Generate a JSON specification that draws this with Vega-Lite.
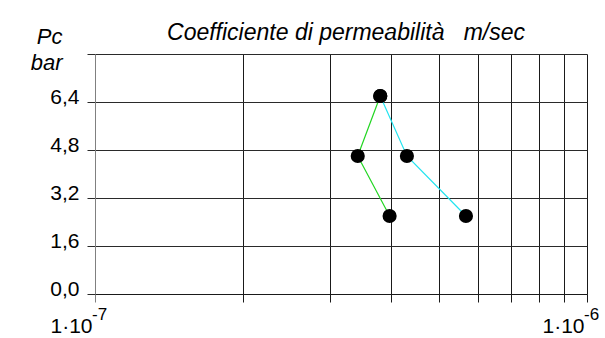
{
  "$schema": "https://vega.github.io/schema/vega-lite/v6.json",
  "width": 492,
  "height": 240,
  "autosize": {"type": "none"},
  "padding": {"left": 95, "top": 54, "right": 18, "bottom": 44},
  "background": "white",
  "config": {"view": {"stroke": null}, "font": "Liberation Sans"},
  "title": {
    "text": "Coefficiente di permeabilità\u00a0\u00a0 m/sec",
    "fontStyle": "italic",
    "fontWeight": "normal",
    "fontSize": 23,
    "font": "Liberation Sans",
    "color": "#000000",
    "anchor": "middle",
    "frame": "group",
    "baseline": "alphabetic",
    "offset": -10,
    "dx": 5,
    "dy": 27
  },
  "datasets": {
    "lines": [
      {"serie": "A", "step": 1, "k": 3.80e-7, "pc": 6.6},
      {"serie": "A", "step": 2, "k": 3.42e-7, "pc": 4.6},
      {"serie": "A", "step": 3, "k": 3.97e-7, "pc": 2.6},
      {"serie": "B", "step": 1, "k": 3.80e-7, "pc": 6.6},
      {"serie": "B", "step": 2, "k": 4.305e-7, "pc": 4.6},
      {"serie": "B", "step": 3, "k": 5.675e-7, "pc": 2.6}
    ],
    "exps": [
      {"k": 1e-7, "pc": 0, "exp": "-7"},
      {"k": 1e-6, "pc": 0, "exp": "-6"}
    ]
  },
  "encoding": {
    "x": {
      "field": "k",
      "type": "quantitative",
      "scale": {"type": "log", "domain": [1e-7, 1e-6]},
      "axis": {
        "values": [1e-7, 2e-7, 3e-7, 4e-7, 5e-7, 6e-7, 7e-7, 8e-7, 9e-7, 1e-6],
        "grid": true,
        "gridColor": {"condition": {"test": "datum.value < 1.5e-7", "value": "#808080"}, "value": "#1a1a1a"},
        "gridOpacity": 1,
        "gridWidth": 1,
        "tickColor": {"condition": {"test": "datum.value < 1.5e-7", "value": "#808080"}, "value": "#1a1a1a"},
        "tickSize": 8,
        "tickWidth": 1,
        "domainColor": "#1a1a1a",
        "labelExpr": "(datum.value < 1.5e-7 || datum.value > 9.5e-7) ? '1·10' : ''",
        "labelAlign": "right",
        "labelOffset": -3,
        "labelBaseline": "alphabetic",
        "labelPadding": 30,
        "labelFont": "Liberation Sans",
        "labelFontSize": 21,
        "labelColor": "#000000",
        "labelFlush": false,
        "labelOverlap": false,
        "labelBound": false,
        "title": null
      }
    },
    "y": {
      "field": "pc",
      "type": "quantitative",
      "scale": {"domain": [0, 8], "nice": false, "zero": false},
      "axis": {
        "values": [0, 1.6, 3.2, 4.8, 6.4, 8],
        "grid": true,
        "gridColor": "#2a2a2a",
        "gridOpacity": 1,
        "gridWidth": 1,
        "tickColor": "#2a2a2a",
        "tickSize": 8,
        "domainColor": "#808080",
        "labelExpr": "datum.value > 7 ? '' : replace(format(datum.value, '.1f'), '.', ',')",
        "labelFont": "Liberation Sans",
        "labelFontSize": 21,
        "labelColor": "#000000",
        "labelBaseline": "alphabetic",
        "labelOffset": 1.5,
        "labelPadding": 8,
        "labelFlush": false,
        "labelOverlap": false,
        "title": ["Pc", "bar"],
        "titleAngle": 0,
        "titleAlign": "right",
        "titleBaseline": "alphabetic",
        "titleX": -33,
        "titleY": -10.5,
        "titleFont": "Liberation Sans",
        "titleFontStyle": "italic",
        "titleFontWeight": "normal",
        "titleFontSize": 22,
        "titleLineHeight": 25.5,
        "titleColor": "#000000"
      }
    }
  },
  "layer": [
    {
      "data": {"name": "lines"},
      "mark": {"type": "line", "strokeWidth": 1.2},
      "encoding": {
        "color": {
          "field": "serie",
          "type": "nominal",
          "scale": {"domain": ["A", "B"], "range": ["#22d622", "#22e4f0"]},
          "legend": null
        },
        "order": {"field": "step", "type": "quantitative"}
      }
    },
    {
      "data": {"name": "lines"},
      "mark": {"type": "circle", "size": 200, "color": "#000000", "opacity": 1}
    },
    {
      "data": {"name": "exps"},
      "mark": {"type": "text", "font": "Liberation Sans", "align": "left", "baseline": "alphabetic", "dx": -3, "dy": 26, "fontSize": 17, "color": "#000000"},
      "encoding": {"text": {"field": "exp"}}
    }
  ]
}
